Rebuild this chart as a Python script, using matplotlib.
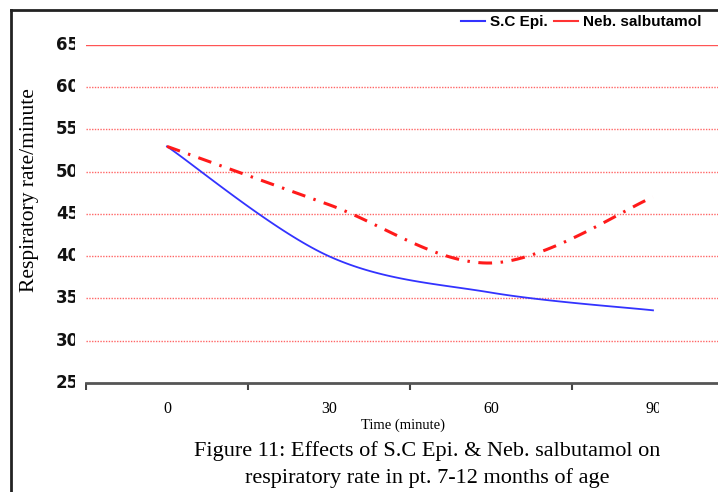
import numpy as np
import matplotlib
matplotlib.use("Agg")
import matplotlib.pyplot as plt
from matplotlib.lines import Line2D
from matplotlib.patches import Rectangle

categories = ["0", "30", "60", "90"]
sc_epi = [53.0, 40.0, 35.7, 33.6]
neb_salb = [53.0, 46.1, 39.2, 47.0]
y_ticks = [25, 30, 35, 40, 45, 50, 55, 60, 65]

W, H = 718, 492
fig = plt.figure(figsize=(W / 100, H / 100), dpi=100)

# frame around figure (left and top edges visible)
fig.add_artist(Line2D([11 / W, 11 / W], [0, 1 - 10 / H], color="#222222", lw=2, transform=fig.transFigure))
fig.add_artist(Line2D([11 / W, 1], [1 - 10 / H, 1 - 10 / H], color="#222222", lw=2, transform=fig.transFigure))

left, right = 86 / W, 734 / W
bottom, top = 1 - 383 / H, 1 - 45 / H
ax = fig.add_axes([left, bottom, right - left, top - bottom])
ax.set_xlim(-0.5, len(categories) - 0.5)
ax.set_ylim(25, 65)


def smooth(vals, n=40):
    x = np.arange(len(vals), dtype=float)
    y = np.asarray(vals, dtype=float)
    px = np.concatenate([[x[0]], x, [x[-1]]])
    py = np.concatenate([[y[0]], y, [y[-1]]])
    xs, ys = [], []
    for i in range(1, len(px) - 2):
        p0, p1, p2, p3 = (np.array([px[j], py[j]]) for j in (i - 1, i, i + 1, i + 2))
        c1 = p1 + (p2 - p0) / 6
        c2 = p2 - (p3 - p1) / 6
        t = np.linspace(0, 1, n)[:, None]
        pts = ((1 - t) ** 3) * p1 + 3 * ((1 - t) ** 2) * t * c1 + 3 * (1 - t) * t ** 2 * c2 + t ** 3 * p2
        xs.append(pts[:, 0])
        ys.append(pts[:, 1])
    return np.concatenate(xs), np.concatenate(ys)


# gridlines
for v in y_ticks[1:]:
    if v == 65:
        ax.axhline(v, color="#ff5555", lw=1.0, zorder=1)
    else:
        ax.axhline(v, color="#ff6666", lw=1.0, ls=(0, (1, 1)), zorder=1)

xs, ys = smooth(sc_epi)
ax.plot(xs, ys, color="#3333ff", lw=1.3, zorder=3)
xs, ys = smooth(neb_salb)
ax.plot(xs, ys, color="#ff1a1a", lw=2.2, ls=(0, (4.5, 2.8, 0.8, 2.8)), zorder=3)

for s in ["top", "right", "left"]:
    ax.spines[s].set_visible(False)
ax.spines["bottom"].set_color("#555555")
ax.spines["bottom"].set_linewidth(2)

ax.set_xticks(np.arange(-0.5, len(categories) + 0.5, 1.0))
ax.set_xticklabels([])
ax.tick_params(axis="x", direction="out", length=5, width=1.5, color="#444444")
ax.set_yticks(y_ticks)
ax.set_yticklabels([])
ax.tick_params(axis="y", length=0)

# y tick labels
ylab_tr = matplotlib.transforms.blended_transform_factory(fig.transFigure, ax.transData)
for v in y_ticks:
    ax.text(56 / W, v, str(v), transform=ylab_tr, clip_on=False,
            ha="left", va="center", fontsize=12, fontweight="bold", family="DejaVu Sans", color="#111111")

for i, c in enumerate(categories):
    ax.text(i, -0.078, c, transform=ax.get_xaxis_transform(), ha="center", va="center",
            fontsize=11.5, family="Liberation Serif", clip_on=False)

# masks reproducing the cut-off label edges of the original
fig.add_artist(Rectangle((75 / W, 1 - 392 / H), 10 / W, 360 / H, transform=fig.transFigure,
                         facecolor="white", edgecolor="none", zorder=5))
fig.add_artist(Rectangle((659 / W, 1 - 418 / H), 12 / W, 18 / H, transform=fig.transFigure,
                         facecolor="white", edgecolor="none", zorder=5))

fig.text(403 / W, 1 - 425 / H, "Time (minute)", ha="center", va="center", fontsize=10.5, family="Liberation Serif")
fig.text(30 / W, 1 - 190 / H, "Respiratory rate/minute", rotation=90, ha="center", va="center",
         fontsize=15.5, family="Liberation Serif")
fig.text(427 / W, 1 - 451 / H, "Figure 11: Effects of S.C Epi. & Neb. salbutamol on", ha="center", va="center",
         fontsize=16, family="Liberation Serif")
fig.text(427 / W, 1 - 478 / H, "respiratory rate in pt. 7-12 months of age", ha="center", va="center",
         fontsize=16, family="Liberation Serif")

handles = [Line2D([], [], color="#3333ff", lw=1.5), Line2D([], [], color="#ff3333", lw=1.5)]
fig.legend(handles, ["S.C Epi.", "Neb. salbutamol"], loc="center", bbox_to_anchor=(581 / W, 1 - 22 / H),
           ncol=2, frameon=False, prop={"family": "Liberation Sans", "weight": "bold", "size": 11},
           handlelength=1.6, handletextpad=0.3, columnspacing=0.4)

fig.savefig("out.png", dpi=100)
